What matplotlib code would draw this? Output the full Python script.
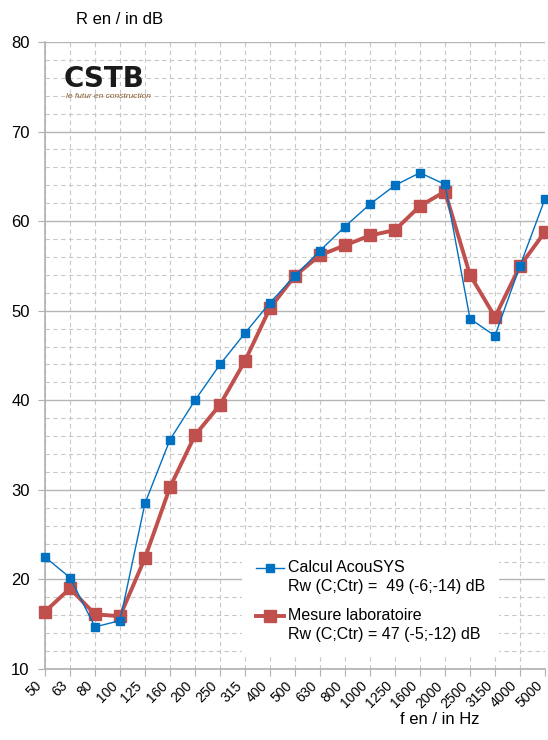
import numpy as np
import matplotlib.pyplot as plt
from matplotlib.ticker import MultipleLocator
from matplotlib.legend_handler import HandlerLine2D
from matplotlib.transforms import Affine2D

# Bandes de tiers d'octave
freqs = ['50', '63', '80', '100', '125', '160', '200', '250', '315', '400', '500',
         '630', '800', '1000', '1250', '1600', '2000', '2500', '3150', '4000', '5000']

# Indice d'affaiblissement R (dB)
calcul = [22.5, 20.2, 14.7, 15.4, 28.5, 35.6, 40.0, 44.0, 47.5, 50.9, 53.9,
          56.7, 59.4, 61.9, 64.0, 65.4, 64.1, 49.1, 47.2, 55.0, 62.5]
mesure = [16.4, 19.0, 16.1, 15.9, 22.4, 30.3, 36.1, 39.5, 44.4, 50.3, 53.9,
          56.2, 57.3, 58.4, 59.0, 61.7, 63.3, 54.0, 49.3, 55.0, 58.8]

label_calc = 'Calcul AcouSYS\nRw (C;Ctr) =  49 (-6;-14) dB'
label_mes = 'Mesure laboratoire\nRw (C;Ctr) = 47 (-5;-12) dB'


# symbole de légende aligné sur la première ligne du texte
class HandlerTop(HandlerLine2D):
    def create_artists(self, legend, orig_handle, xdescent, ydescent,
                       width, height, fontsize, trans):
        arts = super().create_artists(legend, orig_handle, xdescent, ydescent,
                                      width, height, fontsize, trans)
        shift = Affine2D().translate(0, 9)
        for a in arts:
            a.set_transform(a.get_transform() + shift)
        return arts


plt.rcParams['font.family'] = ['Liberation Sans', 'DejaVu Sans']

fig = plt.figure(figsize=(5.48, 7.40), dpi=100)
ax = fig.add_axes([45 / 548, 71 / 740, 500 / 548, 627 / 740])

x = np.arange(len(freqs))
l1, = ax.plot(x, calcul, color='#0070C0', lw=1.0, marker='s', ms=5.5,
              label=label_calc, zorder=4, clip_on=False)
l2, = ax.plot(x, mesure, color='#C0504D', lw=2.8, marker='s', ms=8.5,
              label=label_mes, zorder=3, clip_on=False)

ax.set_xlim(0, len(freqs) - 1)
ax.set_ylim(10, 80)
ax.set_xticks(x)
ax.set_xticklabels(freqs, rotation=45, ha='right', fontsize=10)
ax.yaxis.set_major_locator(MultipleLocator(10))
ax.yaxis.set_minor_locator(MultipleLocator(2))
ax.tick_params(axis='y', labelsize=12, length=5, color='#b0b0b0', pad=6)
ax.tick_params(axis='y', which='minor', length=0)
ax.tick_params(axis='x', length=5, color='#b0b0b0', pad=2)

ax.grid(which='major', axis='y', color='#b5b5b5', lw=1.0)
ax.grid(which='minor', axis='y', color='#c8c8c8', lw=0.8, ls=(0, (4, 3)))
ax.grid(which='major', axis='x', color='#c8c8c8', lw=0.8, ls=(0, (4, 3)))
ax.set_axisbelow(True)

for s in ['top', 'right']:
    ax.spines[s].set_visible(False)
for s in ['left', 'bottom']:
    ax.spines[s].set_color('#b0b0b0')
    ax.spines[s].set_linewidth(1.2)

leg = ax.legend(handler_map={l1: HandlerTop(), l2: HandlerTop()},
                loc='lower left', bbox_to_anchor=(0.378, 0.008), fontsize=11.5,
                frameon=True, fancybox=False, edgecolor='none', framealpha=1,
                handlelength=1.7, handletextpad=0.25, labelspacing=0.9,
                borderpad=0.9)
for t in leg.get_texts():
    t.set_linespacing(1.3)

fig.text(120 / 548, 1 - 19 / 740, 'R en / in dB', fontsize=12, ha='center', va='center')
fig.text(440 / 548, 1 - 720 / 740, 'f en / in Hz', fontsize=12, ha='center', va='center')

# logo CSTB
fig.text(64 / 548, 1 - 79 / 740, 'CSTB', fontsize=20, fontweight='bold',
         family='DejaVu Sans', color='#1a1a1a', ha='left', va='center')
fig.text(66 / 548, 1 - 97 / 740, 'le futur en construction', fontsize=6.0,
         style='italic', color='#8a5a2b', ha='left', va='center')

fig.savefig('out.png', dpi=100)
